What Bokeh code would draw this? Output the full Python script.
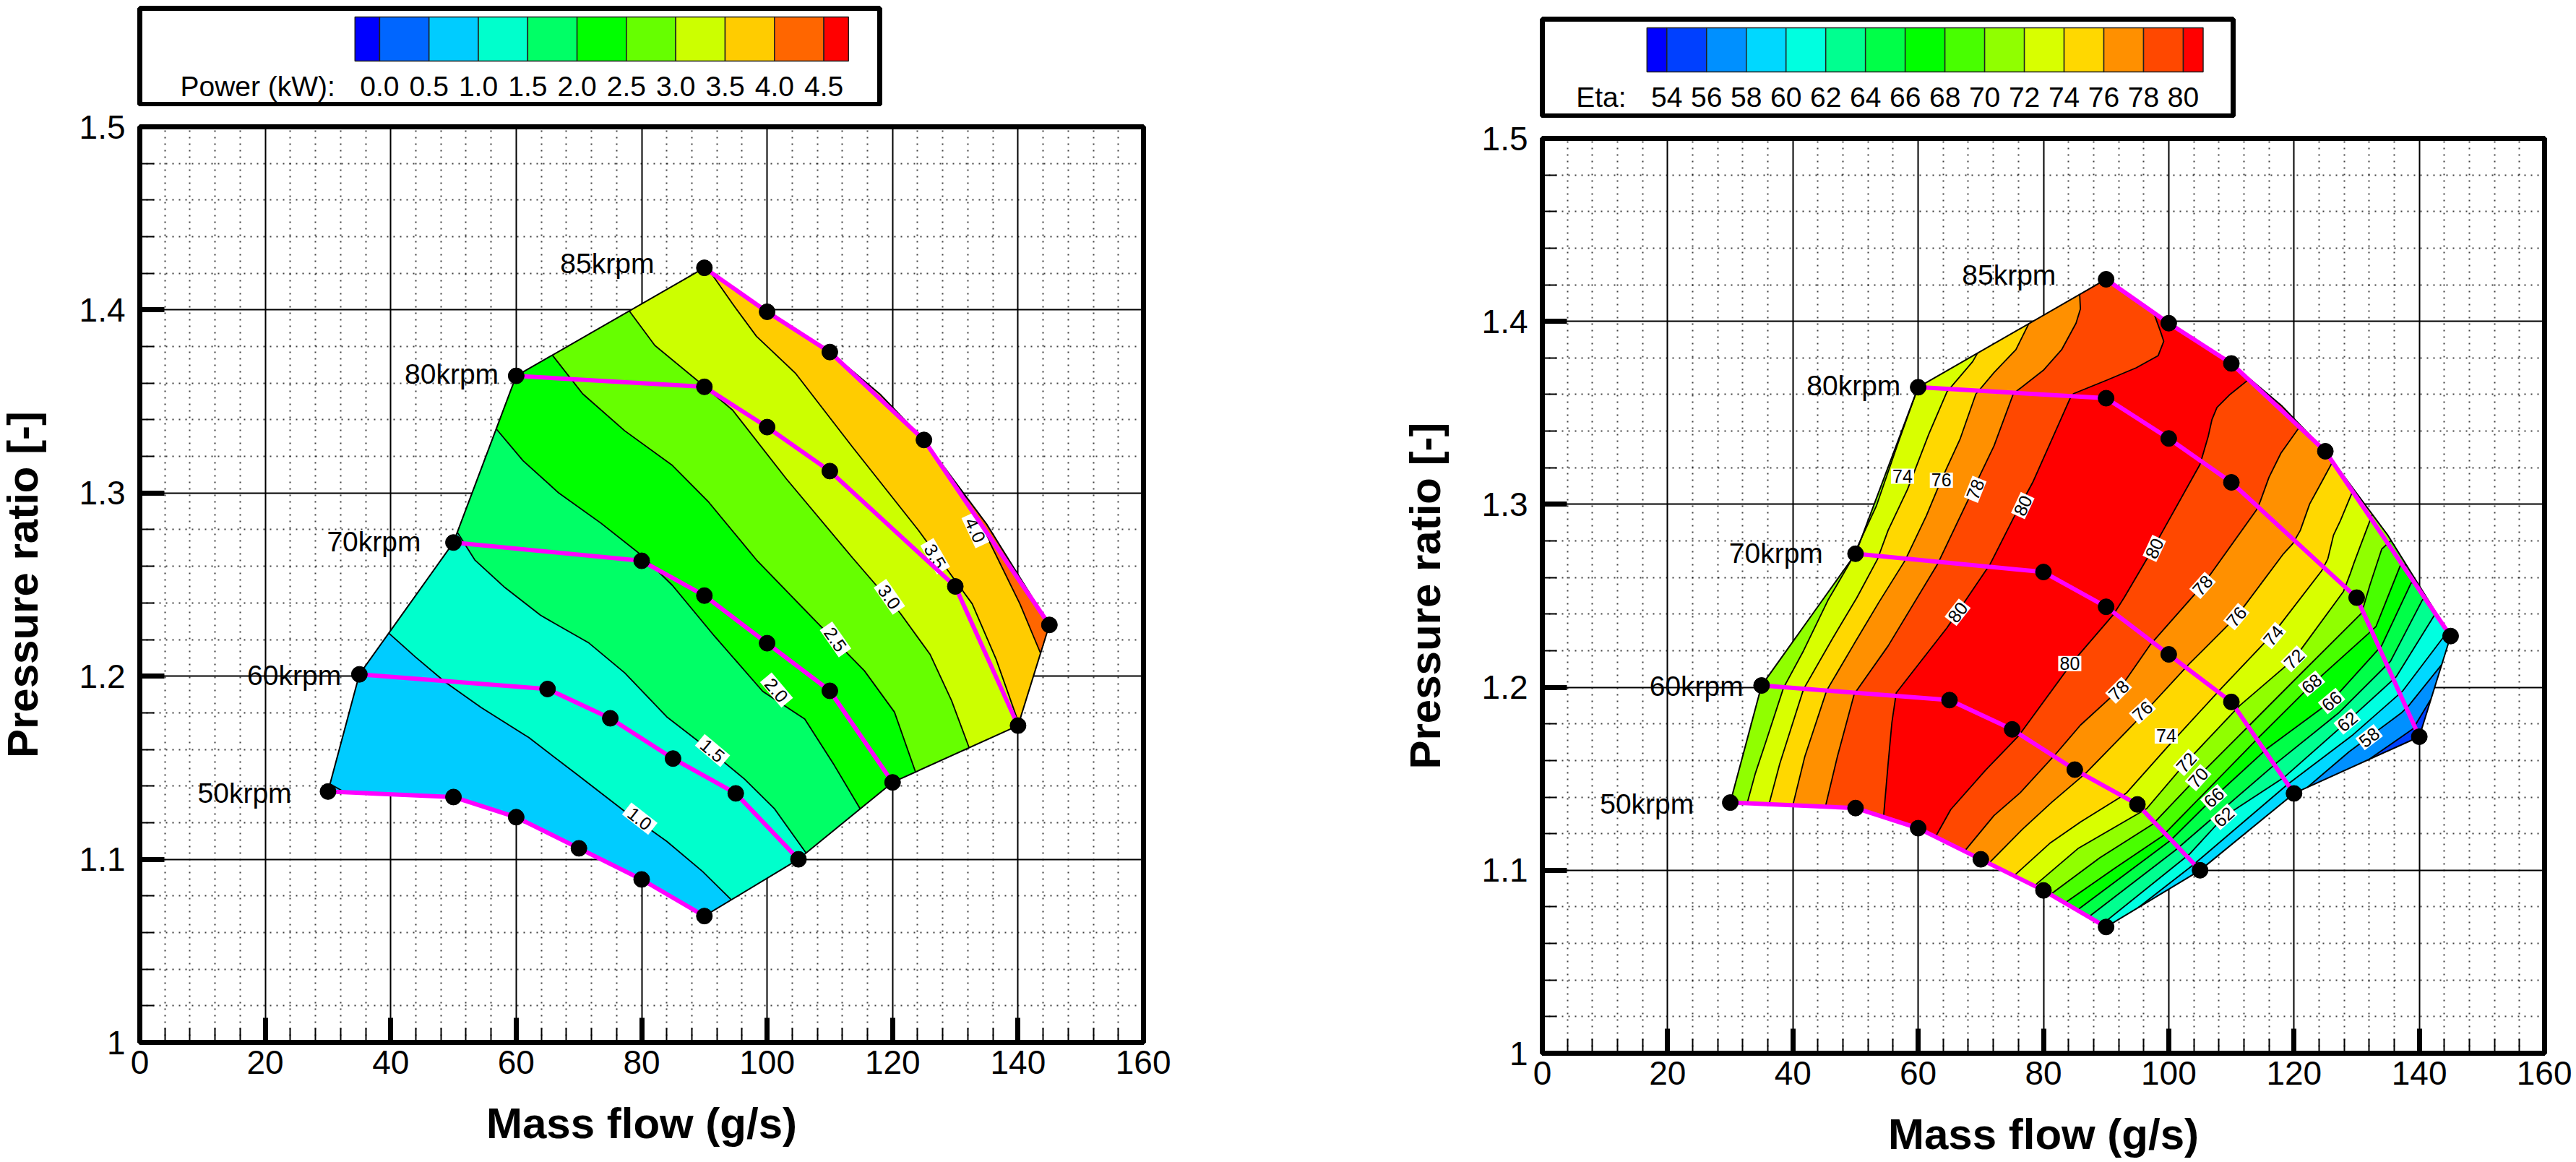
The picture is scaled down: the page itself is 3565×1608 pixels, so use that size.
from bokeh.plotting import figure
from bokeh.layouts import row, column
from bokeh.models import Range1d, FixedTicker, NumeralTickFormatter, BasicTickFormatter
from bokeh.core.properties import value
from bokeh.embed import file_html
from bokeh.resources import INLINE

FONT = "Liberation Sans"

# ---- measured operating points (mass flow g/s, pressure ratio) ----
SPEED_NAMES = ["50krpm", "60krpm", "70krpm", "80krpm", "85krpm"]
N50 = [(30, 1.137), (50, 1.134), (60, 1.123), (70, 1.106), (80, 1.089), (90, 1.069)]
N60 = [(35, 1.201), (65, 1.193), (75, 1.177), (85, 1.155), (95, 1.136), (105, 1.100)]
N70 = [(50, 1.273), (80, 1.263), (90, 1.244), (100, 1.218), (110, 1.192), (120, 1.142)]
N80 = [(60, 1.364), (90, 1.358), (100, 1.336), (110, 1.312), (130, 1.249), (140, 1.173)]
N85 = [(90, 1.423), (100, 1.399), (110, 1.377), (125, 1.329), (145, 1.228)]
SPEED_LABEL_X = [24.2, 32.1, 44.8, 57.2, 82.0]
SPEED_LABEL_Y = [1.1363, 1.2005, 1.2733, 1.3649, 1.4255]

# outline of the map, clockwise
HULL = [(30, 1.137), (35, 1.201), (50, 1.273), (60, 1.364), (90, 1.423), (100, 1.399), (110, 1.377),
        (118, 1.354), (125, 1.329), (135, 1.283), (145, 1.228), (140, 1.173), (120, 1.142), (105, 1.100),
        (90, 1.069), (80, 1.089), (70, 1.106), (60, 1.123), (50, 1.134)]

# ---- power contours: from the lower-right edge to the upper-left edge ----
P10 = [(94.3, 1.0778), (89.7, 1.0934), (84, 1.1098), (77.3, 1.1262), (69.7, 1.1463), (62, 1.1665),
       (54.4, 1.1829), (48.7, 1.1967), (43.9, 1.2106), (39.8, 1.2232)]
P15 = [(106.2, 1.1035), (101.2, 1.1275), (96.4, 1.1438), (89.7, 1.1627), (84, 1.1778), (77.3, 1.2018),
       (71.6, 1.2181), (63.9, 1.2332), (58.2, 1.2484), (53.4, 1.2635), (50.6, 1.2786)]
P20 = [(114.8, 1.1277), (110.7, 1.1514), (106, 1.1766), (99.3, 1.1917), (91.6, 1.2219), (84.9, 1.2496),
       (80, 1.266), (73.5, 1.2836), (66.8, 1.3), (61.1, 1.3176), (57, 1.3348)]
P25 = [(123.6, 1.1481), (120.3, 1.1804), (115.5, 1.203), (107.9, 1.2295), (98.3, 1.2635), (90.7, 1.295),
       (84.9, 1.3151), (77.3, 1.334), (70.6, 1.3542), (65.8, 1.3751)]
P30 = [(132.2, 1.161), (129.4, 1.1867), (126, 1.2118), (121.2, 1.2345), (113.6, 1.2647), (103.1, 1.3076),
       (94.5, 1.3453), (88.8, 1.3617), (82.1, 1.3806), (78.1, 1.399)]
P35 = [(140.3, 1.1741), (136.5, 1.2093), (132.7, 1.2395), (124.1, 1.2798), (113.6, 1.3252), (104.5, 1.3655),
       (98.3, 1.3856), (94.5, 1.4033), (90.7, 1.4196)]
P40 = [(143.8, 1.2123), (140.3, 1.2395), (135.6, 1.2723), (130.8, 1.3025)]
P05_CORNER = [(30.5, 1.1408), (32.2, 1.1375)]
POWER_CONTOURS = [P10, P15, P20, P25, P30, P35, P40]
POWER_BANDS = ["#00FFCC", "#00FF66", "#00FF00", "#66FF00", "#CCFF00", "#FFCC00", "#FF6600"]
POWER_BASE = "#00CCFF"
POWER_LEVELS = ["0.0", "0.5", "1.0", "1.5", "2.0", "2.5", "3.0", "3.5", "4.0", "4.5"]
POWER_EDGES = [-0.25, 0, 0.5, 1, 1.5, 2, 2.5, 3, 3.5, 4, 4.5, 4.75]
POWER_COLORS = ["#0000FF", "#0066FF", "#00CCFF", "#00FFCC", "#00FF66", "#00FF00", "#66FF00", "#CCFF00",
                "#FFCC00", "#FF6600", "#FF0000"]
POWER_TAGS = ["1.0", "1.5", "2.0", "2.5", "3.0", "3.5", "4.0"]
POWER_TAG_X = [79.7, 91.3, 101.5, 110.9, 119.5, 126.8, 133.2]
POWER_TAG_Y = [1.1222, 1.1594, 1.1924, 1.2201, 1.2433, 1.2655, 1.2798]
POWER_TAG_ANGLE = [-38, -40, -50, -55, -55, -60, -65]

# ---- efficiency contours, low-flow side: from the lower edge to the upper edge ----
L72 = [(32.7, 1.1374), (34.0, 1.1529), (35.8, 1.1714), (38.5, 1.1997), (41.7, 1.22), (45.6, 1.2476),
       (49.2, 1.2687), (53.3, 1.2989), (56.9, 1.3345), (60, 1.3625)]
L74 = [(36.2, 1.1374), (37.9, 1.1582), (41.7, 1.199), (46.3, 1.2265), (50.2, 1.2489), (53.5, 1.27),
       (55.2, 1.2858), (58.3, 1.3082), (61.7, 1.3384), (64.6, 1.3615), (68.7, 1.378), (69.5, 1.3825)]
L76 = [(40, 1.1365), (41.9, 1.1621), (45.4, 1.1983), (49.8, 1.2239), (53.7, 1.2463), (57.9, 1.2693),
       (61.3, 1.2937), (63.7, 1.3134), (66.7, 1.3358), (69.2, 1.3602), (72.1, 1.372), (75.6, 1.3845), (77.7, 1.3985)]
L78 = [(45.2, 1.1358), (47.1, 1.1621), (49.8, 1.1964), (55.2, 1.2226), (63.1, 1.2674), (67.5, 1.299),
       (72.1, 1.3319), (75.2, 1.3605), (80, 1.3733), (82.9, 1.3845), (85.2, 1.399), (85.9, 1.4068), (85.8, 1.4146)]
L80 = [(54.6, 1.1305), (55.2, 1.1582), (55.8, 1.1806), (56.5, 1.197), (64.6, 1.2325), (71.5, 1.2674),
       (75.2, 1.2924), (78.3, 1.3121), (84.2, 1.3575), (84.8, 1.3605), (90.2, 1.368), (94.8, 1.3746),
       (98.3, 1.3812), (99.2, 1.3891), (98.7, 1.3943), (97.6, 1.4048)]
# ---- efficiency contours, high-flow side: from the lower edge to the upper edge ----
R80 = [(62.8, 1.1185), (65.2, 1.1332), (70.8, 1.1549), (76, 1.1733), (84.6, 1.2136), (91.2, 1.2399),
       (92.9, 1.2491), (97.5, 1.2759), (105, 1.3219), (106.3, 1.3371), (106.9, 1.3463), (107.7, 1.3529),
       (109.8, 1.3601), (112.9, 1.3686)]
R78 = [(67.4, 1.1104), (72.1, 1.1299), (76.3, 1.1424), (82.1, 1.1641), (85.9, 1.1793), (92, 1.1984),
       (97.1, 1.2235), (105.4, 1.2557), (114, 1.2969), (114.6, 1.3015), (116, 1.3147), (117.9, 1.3279), (120.8, 1.3423)]
R76 = [(71.5, 1.1053), (76.7, 1.1226), (81.3, 1.1371), (86.7, 1.1529), (94.4, 1.1799), (103.3, 1.2129),
       (110.8, 1.2386), (118.3, 1.2729), (119.8, 1.2785), (121, 1.2857), (122.5, 1.3002), (124.4, 1.3121), (126.2, 1.3235)]
R74 = [(75.5, 1.0983), (81, 1.1147), (86, 1.1266), (92.5, 1.1404), (93.3, 1.1424), (99.8, 1.1674),
       (108.3, 1.1991), (116.7, 1.2294), (124.4, 1.2636), (125.4, 1.2702), (126.3, 1.2831), (127.4, 1.291), (129.5, 1.3083)]
R72 = [(78.7, 1.0926), (85.6, 1.1121), (95.6, 1.1319), (96.5, 1.1338), (102.9, 1.1595), (111.3, 1.1899),
       (120, 1.2155), (127.9, 1.2524), (129, 1.2623), (129.6, 1.2682), (130.4, 1.2755), (132.5, 1.2945)]
R70 = [(81.3, 1.0878), (89, 1.1068), (97.5, 1.1253), (104.6, 1.1509), (113.1, 1.18), (122.1, 1.2109),
       (130.8, 1.2406), (132.1, 1.2557), (134, 1.2755), (135.5, 1.2803)]
R68 = [(83.6, 1.0831), (91.3, 1.1009), (99, 1.1187), (114.6, 1.1734), (122.9, 1.2017), (131.9, 1.2294),
       (133.1, 1.2333), (137.1, 1.2676), (138, 1.2665)]
R66 = [(85.6, 1.0795), (100.2, 1.1161), (107.2, 1.1398), (115.8, 1.1668), (126, 1.1925), (134, 1.2228),
       (138.7, 1.2571), (139.7, 1.2572)]
R64 = [(87.4, 1.0755), (101, 1.1108), (117.3, 1.1589), (127.1, 1.1859), (135.4, 1.2142), (140.5, 1.2478), (141.2, 1.2489)]
R62 = [(89.7, 1.0726), (103.3, 1.1088), (108.8, 1.1292), (118.5, 1.151), (128.5, 1.1813), (136.3, 1.2057),
       (142.4, 1.2393), (143, 1.239)]
R60 = [(95.2, 1.0795), (104, 1.1032), (119, 1.147), (129.4, 1.174), (137.3, 1.1978), (143.7, 1.2267), (144.6, 1.2305)]
R58 = [(122.1, 1.1453), (128.8, 1.1648), (137.1, 1.1859), (138.3, 1.1899), (143.7, 1.2123)]
R56 = [(131.9, 1.1606), (139, 1.1773), (141.7, 1.1938)]
ETA_LOW_CONTOURS = [L80, L78, L76, L74, L72]
ETA_LOW_BANDS = ["#FF4800", "#FF9000", "#FFD800", "#D8FF00", "#90FF00"]
ETA_HIGH_CONTOURS = [R80, R78, R76, R74, R72, R70, R68, R66, R64, R62, R60, R58, R56]
ETA_HIGH_BANDS = ["#FF4800", "#FF9000", "#FFD800", "#D8FF00", "#90FF00", "#48FF00", "#00FF00", "#00FF48",
                  "#00FF90", "#00FFE0", "#00D8FF", "#0090FF", "#0040FF"]
ETA_BASE = "#FF0000"
ETA_LEVELS = ["54", "56", "58", "60", "62", "64", "66", "68", "70", "72", "74", "76", "78", "80"]
ETA_EDGES = [53, 54, 56, 58, 60, 62, 64, 66, 68, 70, 72, 74, 76, 78, 80, 81]
ETA_COLORS = ["#0000FF", "#0040FF", "#0090FF", "#00D8FF", "#00FFE0", "#00FF90", "#00FF48", "#00FF00", "#48FF00",
              "#90FF00", "#D8FF00", "#FFD800", "#FF9000", "#FF4800", "#FF0000"]
ETA_TAGS = ["74", "76", "78", "80", "80", "80", "80", "78", "76", "74", "72", "68", "66", "62", "58",
            "78", "76", "74", "72", "70", "66", "62"]
ETA_TAG_X = [57.5, 63.7, 69.1, 76.7, 66.3, 84.2, 97.7, 105.4, 110.8, 116.7, 120, 122.8, 126, 128.5, 132,
             92, 95.8, 99.6, 102.8, 104.7, 107.2, 108.8]
ETA_TAG_Y = [1.3154, 1.3132, 1.3082, 1.2993, 1.241, 1.213, 1.2759, 1.2557, 1.2386, 1.2283, 1.2155, 1.202, 1.1925,
             1.1813, 1.1727, 1.1984, 1.187, 1.1734, 1.1589, 1.1506, 1.1398, 1.1292]
ETA_TAG_ANGLE = [0, 0, 68, 65, 52, 0, 65, 48, 50, 50, 45, 40, 40, 40, 38, 45, 42, 0, 48, 48, 42, 42]

X_TICKS = [0, 20, 40, 60, 80, 100, 120, 140, 160]
Y_TICKS = [1.0, 1.1, 1.2, 1.3, 1.4, 1.5]
X_MINOR = [v for v in range(0, 161, 4) if v % 20]
Y_MINOR = [1 + k * 0.02 for k in range(26) if k % 5]


def snap(p):
    best = None
    for i in range(len(HULL)):
        a, b = HULL[i], HULL[(i + 1) % len(HULL)]
        ax, ay, bx, by = a[0] * 8.67, a[1] * 2532, b[0] * 8.67, b[1] * 2532
        px, py = p[0] * 8.67, p[1] * 2532
        dx, dy = bx - ax, by - ay
        t = max(0, min(1, ((px - ax) * dx + (py - ay) * dy) / (dx * dx + dy * dy)))
        qx, qy = ax + t * dx, ay + t * dy
        d = (qx - px) ** 2 + (qy - py) ** 2
        if best is None or d < best[0]:
            best = (d, i, (qx / 8.67, qy / 2532))
    return best[1], best[2]


def snapped(c):
    i0, p0 = snap(c[0])
    i1, p1 = snap(c[-1])
    return i0, i1, [p0] + list(c[1:-1]) + [p1]


def region(c):
    """Contour plus the part of the outline walked clockwise from its end to its start."""
    i0, i1, pts = snapped(c)
    out = list(pts)
    n = len(HULL)
    k = (i1 + 1) % n
    while True:
        out.append(HULL[k])
        if k == i0:
            break
        k = (k + 1) % n
    return out


def xs(pts):
    return [p[0] for p in pts]


def ys(pts):
    return [p[1] for p in pts]


LEFT_BORDER = 191
RIGHT_BORDER = 38


def main_figure(frame_w, frame_h, top, bottom):
    p = figure(x_range=Range1d(0, 160), y_range=Range1d(1, 1.5), frame_width=frame_w, frame_height=frame_h,
               min_border_left=LEFT_BORDER, min_border_right=RIGHT_BORDER, min_border_top=top, min_border_bottom=bottom,
               toolbar_location=None, output_backend="svg", background_fill_color="white")
    p.outline_line_color = "black"
    p.outline_line_width = 7
    for ax, major, minor in ((p.xaxis[0], X_TICKS, X_MINOR), (p.yaxis[0], Y_TICKS, Y_MINOR)):
        ax.ticker = FixedTicker(ticks=major, minor_ticks=minor)
        ax.axis_line_width = 7
        ax.major_tick_in = 34
        ax.major_tick_out = 0
        ax.minor_tick_in = 20
        ax.minor_tick_out = 0
        ax.major_tick_line_width = 7
        ax.minor_tick_line_width = 2
        ax.major_label_text_font = FONT
        ax.major_label_text_font_size = "46px"
        ax.major_label_text_color = "black"
        ax.axis_label_text_font = FONT
        ax.axis_label_text_font_size = "60px"
        ax.axis_label_text_font_style = "bold"
        ax.axis_label_text_color = "black"
    p.xaxis[0].formatter = BasicTickFormatter()
    p.yaxis[0].formatter = NumeralTickFormatter(format="0.[0]")
    p.yaxis[0].major_label_standoff = 20
    p.xaxis[0].major_label_standoff = 11
    p.xaxis[0].axis_label_standoff = 32
    p.yaxis[0].axis_label_standoff = 42
    p.xaxis[0].axis_label = "Mass flow (g/s)"
    p.yaxis[0].axis_label = "Pressure ratio [-]"
    for g, major, minor in ((p.xgrid[0], X_TICKS, X_MINOR), (p.ygrid[0], Y_TICKS, Y_MINOR)):
        g.ticker = FixedTicker(ticks=major, minor_ticks=minor)
        g.grid_line_color = "black"
        g.grid_line_width = 2
        g.minor_grid_line_color = "black"
        g.minor_grid_line_width = 2
        g.minor_grid_line_dash = "2 7"
        g.minor_grid_line_alpha = 0.75
    return p


def draw_map(p, base, contours, bands, extra_lines, tags, tag_x, tag_y, tag_angle):
    p.patch(xs(HULL), ys(HULL), fill_color=base, line_color=None)
    for c, color in zip(contours, bands):
        r = region(c)
        p.patch(xs(r), ys(r), fill_color=color, line_color=None)
    for c in contours:
        pts = snapped(c)[2]
        p.line(xs(pts), ys(pts), line_color="black", line_width=1.8)
    for c in extra_lines:
        p.line(xs(c), ys(c), line_color="black", line_width=1.8)
    p.patch(xs(HULL), ys(HULL), fill_color=None, line_color="black", line_width=2)
    widths = [14 * len(t) + 4 for t in tags]
    p.rect(tag_x, tag_y, width=widths, height=[21] * len(tags), width_units="screen", height_units="screen",
           angle=tag_angle, angle_units="deg", fill_color="white", line_color=None)
    p.text(tag_x, tag_y, text=tags, angle=tag_angle, angle_units="deg", text_font=value(FONT),
           text_font_size="25px", text_align="center", text_baseline="middle", text_color="black")
    for n in (N50, N60, N70, N80, N85):
        p.line(xs(n), ys(n), line_color="#FF00FF", line_width=6)
    for n in (N50, N60, N70, N80, N85):
        p.scatter(xs(n), ys(n), marker="circle", size=22, fill_color="black", line_color="black")
    p.text(SPEED_LABEL_X, SPEED_LABEL_Y, text=SPEED_NAMES, text_font=value(FONT), text_font_size="39px",
           text_align="right", text_baseline="middle", text_color="black")


def legend_figure(frame_w, x0, x1, edges, colors, levels, title, title_right, margin, height):
    # a Column lines its plots' frames up, so this one shares the border widths of the main plot below it
    p = figure(x_range=Range1d(x0, x1), y_range=Range1d(height, 0), width=LEFT_BORDER + frame_w + RIGHT_BORDER,
               height=height + 6, min_border_left=LEFT_BORDER, min_border_right=RIGHT_BORDER, min_border_top=3,
               min_border_bottom=3, toolbar_location=None, output_backend="svg", x_axis_type=None, y_axis_type=None,
               margin=margin)
    p.xgrid.visible = False
    p.ygrid.visible = False
    p.outline_line_color = "black"
    p.outline_line_width = 7
    p.quad(left=edges[:-1], right=edges[1:], top=[12] * len(colors), bottom=[73] * len(colors),
           fill_color=colors, line_color="#202020", line_width=1.5)
    level_vals = edges[1:-1]
    p.text(level_vals, [107.5] * len(levels), text=levels, text_font=value(FONT), text_font_size="39px",
           text_align="center", text_baseline="middle", text_color="black")
    p.text([title_right], [107.5], text=[title], text_font=value(FONT), text_font_size="39px",
           text_align="right", text_baseline="middle", text_color="black")
    return p


power = main_figure(1389, 1267, 28, 152)
draw_map(power, POWER_BASE, POWER_CONTOURS, POWER_BANDS, [P05_CORNER], POWER_TAGS, POWER_TAG_X, POWER_TAG_Y,
         POWER_TAG_ANGLE)
power_legend = legend_figure(1032, (192 - 526.5) / 137.67, (1224 - 526.5) / 137.67, POWER_EDGES, POWER_COLORS,
                             POWER_LEVELS, "Power (kW):", -0.45, (0, 0, 0, 0), 133)

eta = main_figure(1387, 1266, 28, 138)
eta_contours = [list(reversed(c)) for c in ETA_LOW_CONTOURS] + ETA_HIGH_CONTOURS
draw_map(eta, ETA_BASE, eta_contours, ETA_LOW_BANDS + ETA_HIGH_BANDS, [], ETA_TAGS, ETA_TAG_X, ETA_TAG_Y,
         ETA_TAG_ANGLE)
eta_legend = legend_figure(964, 53 - (2279 - 2133) / 27.72, 53 + (3097 - 2279) / 27.72, ETA_EDGES, ETA_COLORS,
                           ETA_LEVELS, "Eta:", 53 - (2279 - 2250) / 27.72, (15, 0, 0, 0), 134)

layout = row(column(power_legend, power, spacing=0, margin=(8, 0, 0, -6)),
             column(eta_legend, eta, spacing=0, margin=(8, 0, 0, 315)), spacing=0)
open("out.html", "w").write(file_html(layout, INLINE))
